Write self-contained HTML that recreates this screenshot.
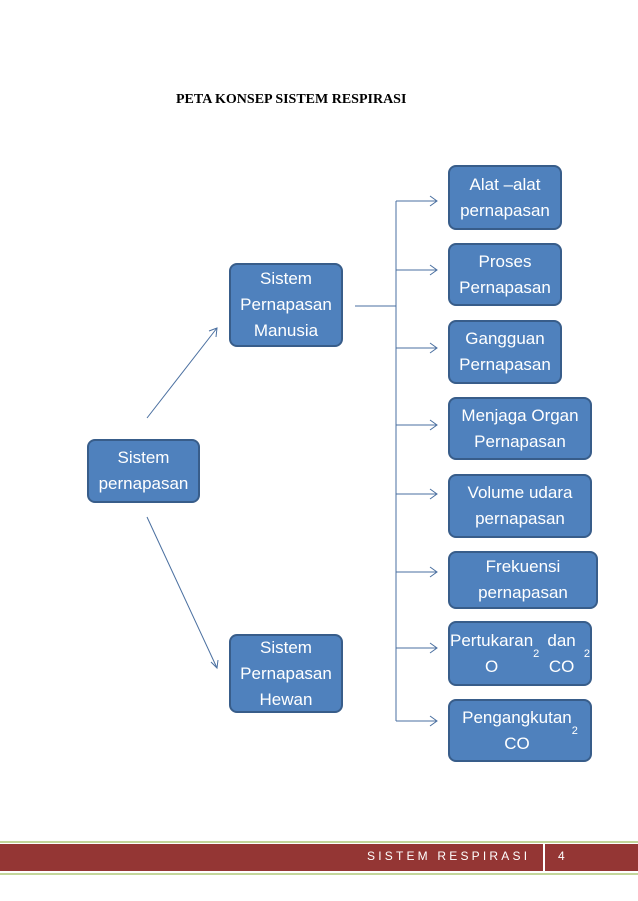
<!DOCTYPE html>
<html><head><meta charset="utf-8"><style>
body{margin:0;width:638px;height:901px;background:#fff;position:relative;overflow:hidden;font-family:"Liberation Sans",sans-serif}
.b{position:absolute;box-sizing:border-box;background:#4f81bd;border:2px solid #385d8a;border-radius:8px;color:#fff;font-size:17px;line-height:26px;display:flex;align-items:center;justify-content:center;text-align:center}
sub{font-size:11px;line-height:0;vertical-align:-4px}
</style></head><body>
<div style="position:absolute;left:176px;top:92px;font-family:'Liberation Serif',serif;font-weight:bold;font-size:14px">PETA KONSEP SISTEM RESPIRASI</div>
<svg width="638" height="901" style="position:absolute;left:0;top:0" fill="none" stroke="#4a6fa0" stroke-width="1">
<line x1="396" y1="201" x2="396" y2="721"/>
<line x1="355" y1="306" x2="396" y2="306"/>
<g>
<line x1="396" y1="201" x2="437" y2="201"/><line x1="396" y1="270" x2="437" y2="270"/><line x1="396" y1="348" x2="437" y2="348"/><line x1="396" y1="425" x2="437" y2="425"/><line x1="396" y1="494" x2="437" y2="494"/><line x1="396" y1="572" x2="437" y2="572"/><line x1="396" y1="648" x2="437" y2="648"/><line x1="396" y1="721" x2="437" y2="721"/>
<path d="M430 196L437 201L430 206M430 265L437 270L430 275M430 343L437 348L430 353M430 420L437 425L430 430M430 489L437 494L430 499M430 567L437 572L430 577M430 643L437 648L430 653M430 716L437 721L430 726"/>
</g>
<line x1="147" y1="418" x2="217" y2="328"/><path d="M209 331L217 328L216 337"/>
<line x1="147" y1="517" x2="217" y2="668"/><path d="M211 662L217 668L218 660"/>
</svg>
<div class="b" style="left:87px;top:439px;width:113px;height:64px">Sistem<br>pernapasan</div>
<div class="b" style="left:229px;top:263px;width:114px;height:84px">Sistem<br>Pernapasan<br>Manusia</div>
<div class="b" style="left:229px;top:634px;width:114px;height:79px">Sistem<br>Pernapasan<br>Hewan</div>
<div class="b" style="left:448px;top:165px;width:114px;height:65px">Alat –alat<br>pernapasan</div>
<div class="b" style="left:448px;top:243px;width:114px;height:63px">Proses<br>Pernapasan</div>
<div class="b" style="left:448px;top:320px;width:114px;height:64px">Gangguan<br>Pernapasan</div>
<div class="b" style="left:448px;top:397px;width:144px;height:63px">Menjaga Organ<br>Pernapasan</div>
<div class="b" style="left:448px;top:474px;width:144px;height:64px">Volume udara<br>pernapasan</div>
<div class="b" style="left:448px;top:551px;width:150px;height:58px">Frekuensi<br>pernapasan</div>
<div class="b" style="left:448px;top:621px;width:144px;height:65px">Pertukaran<br>O<sub>2</sub> dan CO<sub>2</sub></div>
<div class="b" style="left:448px;top:699px;width:144px;height:63px">Pengangkutan<br>CO<sub>2</sub></div>
<div style="position:absolute;left:0;top:841px;width:638px;height:2px;background:#c3d69b"></div>
<div style="position:absolute;left:0;top:844px;width:638px;height:27px;background:#943634"></div>
<div style="position:absolute;left:0;top:873px;width:638px;height:2px;background:#c3d69b"></div>
<div style="position:absolute;left:543px;top:843px;width:2px;height:29px;background:#fff"></div>
<div style="position:absolute;left:367px;top:849px;color:#fff;font-size:12px;letter-spacing:3.2px">SISTEM RESPIRASI</div>
<div style="position:absolute;left:558px;top:849px;color:#fff;font-size:12px">4</div>
</body></html>
